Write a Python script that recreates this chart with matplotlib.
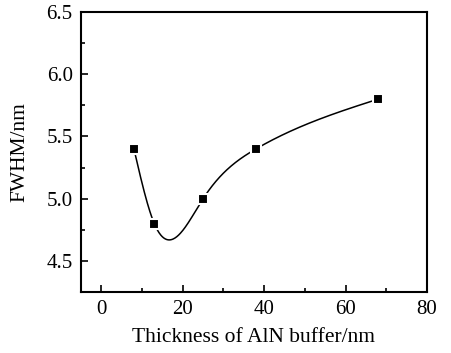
import numpy as np
import matplotlib
matplotlib.use("Agg")
import matplotlib.pyplot as plt
from matplotlib.ticker import MultipleLocator

# data
thickness = [8, 13, 25, 38, 68]
fwhm = [5.4, 4.8, 5.0, 5.4, 5.8]


def natural_spline(x, y, xs):
    # plain natural cubic spline through the measured points
    x = np.asarray(x, float)
    y = np.asarray(y, float)
    n = len(x)
    h = np.diff(x)
    A = np.zeros((n, n))
    b = np.zeros(n)
    A[0, 0] = A[-1, -1] = 1
    for i in range(1, n - 1):
        A[i, i - 1] = h[i - 1]
        A[i, i] = 2 * (h[i - 1] + h[i])
        A[i, i + 1] = h[i]
        b[i] = 3 * ((y[i + 1] - y[i]) / h[i] - (y[i] - y[i - 1]) / h[i - 1])
    c = np.linalg.solve(A, b)
    out = np.empty_like(xs)
    for k, xv in enumerate(xs):
        i = min(max(np.searchsorted(x, xv) - 1, 0), n - 2)
        d = xv - x[i]
        bi = (y[i + 1] - y[i]) / h[i] - h[i] * (2 * c[i] + c[i + 1]) / 3
        di = (c[i + 1] - c[i]) / (3 * h[i])
        out[k] = y[i] + bi * d + c[i] * d**2 + di * d**3
    return out


plt.rcParams['font.family'] = ['Liberation Serif', 'DejaVu Serif']

fig = plt.figure(figsize=(4.51, 3.53), dpi=100)
ax = fig.add_axes([81 / 451, 1 - 292 / 353, (427 - 81) / 451, (292 - 12) / 353])

xs = np.linspace(thickness[0], thickness[-1], 400)
ax.plot(xs, natural_spline(thickness, fwhm, xs), color='black', lw=1.1)
ax.plot(thickness, fwhm, 's', color='black', markersize=7.5,
        markeredgecolor='white', markeredgewidth=1.5)

ax.set_xlim(-5, 80)
ax.set_ylim(4.25, 6.5)
ax.xaxis.set_major_locator(MultipleLocator(20))
ax.xaxis.set_minor_locator(MultipleLocator(10))
ax.yaxis.set_major_locator(MultipleLocator(0.5))
ax.yaxis.set_minor_locator(MultipleLocator(0.25))
ax.yaxis.set_major_formatter(lambda v, p: "%.1f" % v)

ax.tick_params(which='both', direction='in', top=False, right=False,
               labelsize=15, width=1.2, pad=6)
ax.tick_params(which='major', length=5)
ax.tick_params(which='minor', length=3)
for s in ax.spines.values():
    s.set_linewidth(1.5)

ax.set_xlabel("Thickness of AlN buffer/nm", fontsize=15.5, labelpad=6)
ax.set_ylabel("FWHM/nm", fontsize=15.5, labelpad=12)

fig.savefig("out.png", dpi=100)
